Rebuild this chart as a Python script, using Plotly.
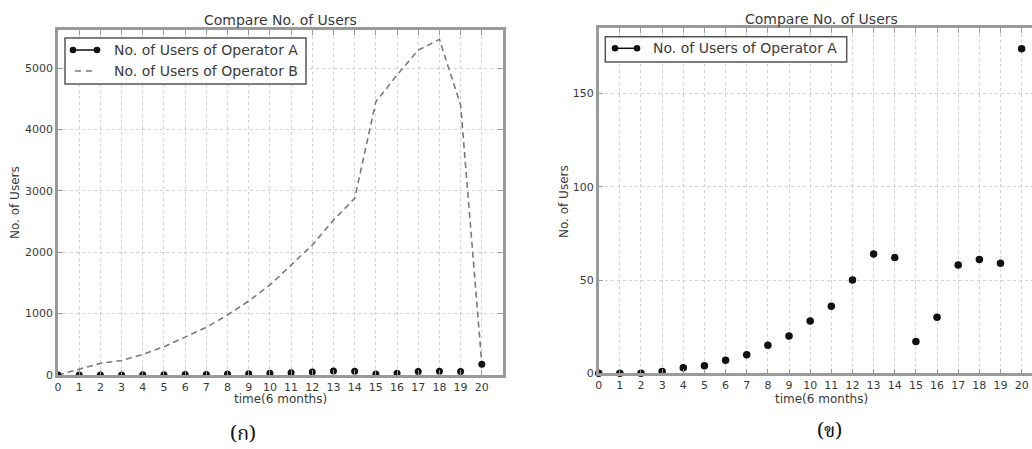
import plotly.graph_objects as go

# ---------------- data ----------------
time_periods = list(range(21))
users_operator_a = [0, 0, 0, 1, 3, 4, 7, 10, 15, 20, 28, 36, 50, 64, 62, 17, 30, 58, 61, 59, 174]
users_operator_b = [0, 100, 190, 235, 335, 461, 613, 776, 977, 1205, 1466, 1792, 2117, 2524, 2877,
                    4452, 4886, 5293, 5467, 4397, 180]
x_tick_values = list(range(21))
left_y_ticks = [0, 1000, 2000, 3000, 4000, 5000]
right_y_ticks = [0, 50, 100, 150]
title_text = "Compare No. of Users"
x_label = "time(6 months)"
y_label = "No. of Users"
legend_a = "No. of Users of Operator A"
legend_b = "No. of Users of Operator B"
captions = ["(ก)", "(ข)"]

# ---------------- layout helpers ----------------
W, H = 1032, 449
def px(x):
    return x / W
def py(y):
    return (H - y) / H

FONT = "DejaVu Sans, Verdana, sans-serif"
TEXT = "#3a3a3a"
FRAME = "#9a9a9a"
GRID = "#d2d2d2"

fig = go.Figure()

# left panel
fig.add_trace(go.Scatter(x=time_periods, y=users_operator_b, mode="lines",
                         line=dict(color="#7a7a7a", width=1.6, dash="6px,4px"),
                         xaxis="x", yaxis="y", showlegend=False))
fig.add_trace(go.Scatter(x=time_periods, y=users_operator_a, mode="markers",
                         marker=dict(color="#111111", size=7),
                         xaxis="x", yaxis="y", showlegend=False))
# right panel
fig.add_trace(go.Scatter(x=time_periods, y=users_operator_a, mode="markers",
                         marker=dict(color="#111111", size=7.5), cliponaxis=False,
                         xaxis="x2", yaxis="y2", showlegend=False))

axis_common = dict(showline=True, linecolor=FRAME, linewidth=2.5, automargin=False,
                   ticks="inside", ticklen=5, tickcolor=FRAME, tickwidth=1,
                   showgrid=True, gridcolor=GRID, griddash="dot", gridwidth=1,
                   zeroline=False, tickfont=dict(family=FONT, size=11, color=TEXT))

fig.update_layout(
    width=W, height=H,
    margin=dict(l=0, r=0, t=0, b=0, autoexpand=False),
    paper_bgcolor="white", plot_bgcolor="white",
    showlegend=False,
    xaxis=dict(domain=[px(58), px(503)], range=[0, 21], tickvals=x_tick_values,
               mirror="ticks", anchor="y", **axis_common),
    yaxis=dict(domain=[py(375), py(30)], range=[0, 5620], tickvals=left_y_ticks,
               mirror="ticks", anchor="x", **axis_common),
    xaxis2=dict(domain=[px(598.7), 1.0], range=[0, 20.49], tickvals=x_tick_values,
                mirror="ticks", anchor="y2", **axis_common),
    yaxis2=dict(domain=[py(373.3), py(28.3)], range=[0, 184.9], tickvals=right_y_ticks,
                mirror=False, anchor="x2", **axis_common),
)

annotations = []
def txt(x, y, s, size, **kw):
    d = dict(x=px(x), y=py(y), xref="paper", yref="paper", text=s, showarrow=False,
             font=dict(family=FONT, size=size, color=TEXT), xanchor="center", yanchor="middle")
    d.update(kw)
    annotations.append(d)

# titles and axis labels
txt(280.5, 20.5, title_text, 14)
txt(821, 19, title_text, 14)
txt(280, 399, x_label, 12)
txt(821, 399, x_label, 12)
txt(15, 203, y_label, 12, textangle=-90)
txt(564, 202, y_label, 12, textangle=-90)
# captions
cap_font = dict(family="Noto Serif Thai, Noto Sans Thai, Garuda, Loma, serif", size=20, color="#111")
txt(243, 434.5, captions[0], 20, font=cap_font)
txt(829, 432, captions[1], 20, font=cap_font)

# legend texts
txt(112, 50, legend_a, 14, xanchor="left")
txt(112, 71, legend_b, 14, xanchor="left")
txt(651, 48.3, legend_a, 14, xanchor="left")

shapes = []
def rect(x0, y0, x1, y1):
    shapes.append(dict(type="rect", xref="paper", yref="paper", x0=px(x0), x1=px(x1),
                       y0=py(y1), y1=py(y0), line=dict(color="#555", width=1.5),
                       fillcolor="white", layer="above"))
def seg(x0, x1, y, dash="solid", color="#111", width=1.5):
    shapes.append(dict(type="line", xref="paper", yref="paper", x0=px(x0), x1=px(x1),
                       y0=py(y), y1=py(y), line=dict(color=color, width=width, dash=dash),
                       layer="above"))
def dot(x, y, r=3.3):
    shapes.append(dict(type="circle", xref="paper", yref="paper", xsizemode="pixel",
                       ysizemode="pixel", xanchor=px(x), yanchor=py(y), x0=-r, x1=r, y0=-r, y1=r,
                       fillcolor="#111", line=dict(width=0), layer="above"))

# left legend
rect(65, 38, 306, 84)
seg(73, 97, 50)
dot(73, 50); dot(97, 50)
seg(75, 97, 71, dash="6px,5px", color="#7a7a7a", width=1.6)
# right legend
rect(605.3, 36.7, 846.7, 62)
seg(615, 637, 48.3)
dot(615, 48.3); dot(637, 48.3)

fig.update_layout(annotations=annotations, shapes=shapes)

fig.write_html("out.html", config={"displayModeBar": False},
               post_script="document.body.style.margin='0';document.body.style.overflow='hidden';")
